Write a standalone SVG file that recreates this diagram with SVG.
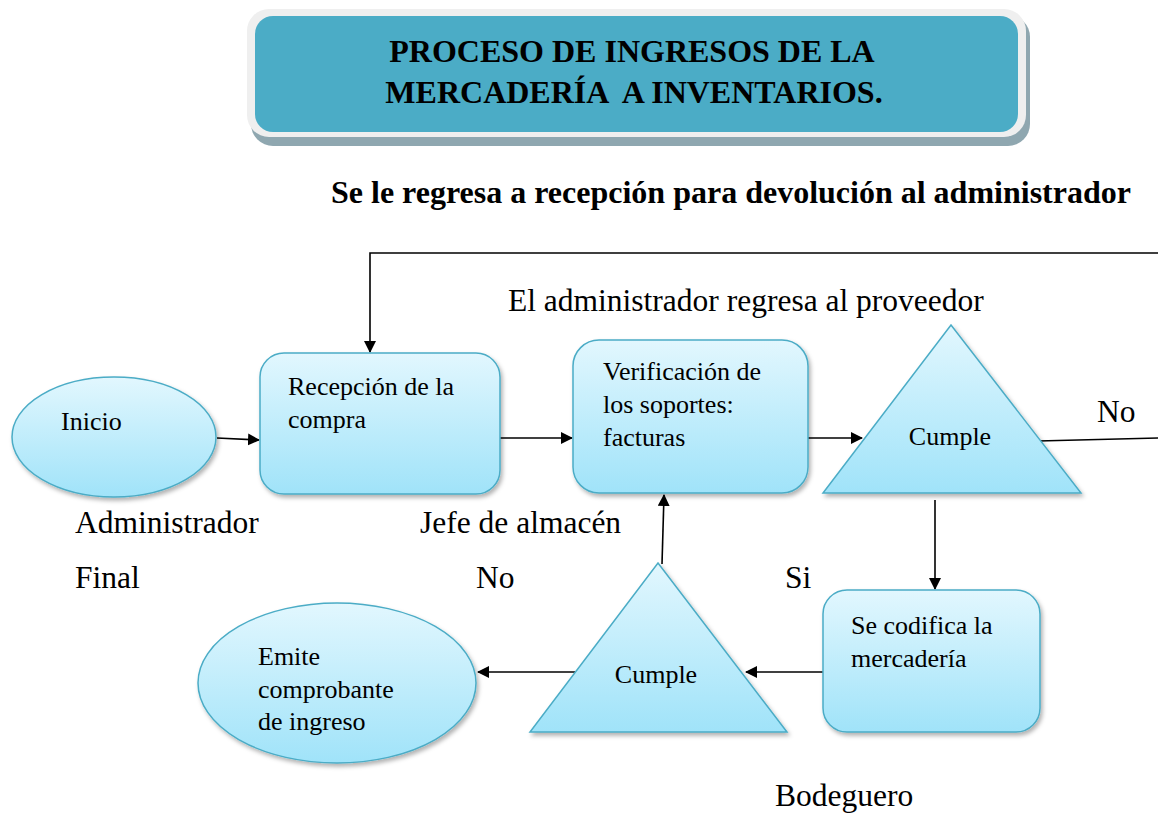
<svg xmlns="http://www.w3.org/2000/svg" width="1158" height="814" viewBox="0 0 1158 814">
<style>
.node{fill:url(#g);stroke:#4BACC6;stroke-width:1.5;filter:url(#sh)}
.t{font-family:"Liberation Serif","Times New Roman",serif;font-size:26px;fill:#000}
.lb{font-family:"Liberation Serif","Times New Roman",serif;font-size:31.5px;fill:#000}
.b{font-family:"Liberation Serif","Times New Roman",serif;font-weight:bold;font-size:32px;fill:#000}
.c{stroke:#000;stroke-width:1.6;fill:none}
</style>
<defs>
<linearGradient id="g" x1="0" y1="0" x2="0" y2="1">
<stop offset="0" stop-color="#E2F7FE"/>
<stop offset="1" stop-color="#A0E3F9"/>
</linearGradient>
<filter id="sh" x="-10%" y="-10%" width="130%" height="130%">
<feDropShadow dx="2" dy="3" stdDeviation="2" flood-color="#000" flood-opacity="0.3"/>
</filter>
<marker id="ah" viewBox="0 0 12 12" refX="11" refY="6" markerWidth="12" markerHeight="12" markerUnits="userSpaceOnUse" orient="auto">
<path d="M0,0 L12,6 L0,12 Z" fill="#000"/>
</marker>
</defs>
<rect width="1158" height="814" fill="#fff"/>
<g id="title">
<rect x="251" y="15" width="779" height="131" rx="22" fill="#8FA7B0"/>
<rect x="247" y="9" width="779" height="128" rx="22" fill="#EFEFEF"/>
<rect x="255" y="16" width="763" height="116" rx="18" fill="#4BACC6"/>
<text class="b" x="632" y="62" text-anchor="middle">PROCESO DE INGRESOS DE LA</text>
<text class="b" x="634" y="103" text-anchor="middle" xml:space="preserve">MERCADERÍA  A INVENTARIOS.</text>
</g>
<text class="b" x="331" y="203">Se le regresa a recepción para devolución al administrador</text>
<g id="connectors">
<polyline class="c" points="1158,253 370,253 370,352" marker-end="url(#ah)"/>
<line class="c" x1="217" y1="438" x2="259" y2="440" marker-end="url(#ah)"/>
<line class="c" x1="500" y1="438" x2="572" y2="438" marker-end="url(#ah)"/>
<line class="c" x1="808" y1="438" x2="862" y2="438" marker-end="url(#ah)"/>
<line class="c" x1="1038" y1="441" x2="1158" y2="438"/>
<line class="c" x1="935" y1="500" x2="935" y2="589" marker-end="url(#ah)"/>
<line class="c" x1="823" y1="672" x2="746" y2="672" marker-end="url(#ah)"/>
<line class="c" x1="662" y1="564" x2="664" y2="495" marker-end="url(#ah)"/>
<line class="c" x1="575" y1="672" x2="478" y2="672" marker-end="url(#ah)"/>
</g>
<g id="inicio">
<ellipse class="node" cx="114" cy="437" rx="102" ry="60"/>
<text class="t" x="61" y="430">Inicio</text>
</g>
<g id="recepcion">
<rect class="node" x="260" y="353" width="240" height="141" rx="24"/>
<text class="t" x="288" y="395">Recepción de la</text>
<text class="t" x="288" y="428">compra</text>
</g>
<g id="verificacion">
<rect class="node" x="573" y="340" width="235" height="153" rx="26"/>
<text class="t" x="603" y="380">Verificación de</text>
<text class="t" x="603" y="413">los soportes:</text>
<text class="t" x="603" y="446">facturas</text>
</g>
<g id="cumple1">
<polygon class="node" points="951,325 1081,493 823,493"/>
<text class="t" x="950" y="445" text-anchor="middle">Cumple</text>
</g>
<g id="codifica">
<rect class="node" x="823" y="590" width="217" height="142" rx="24"/>
<text class="t" x="851" y="634">Se codifica la</text>
<text class="t" x="851" y="667">mercadería</text>
</g>
<g id="cumple2">
<polygon class="node" points="658,563 787,732 530,732"/>
<text class="t" x="656" y="683" text-anchor="middle">Cumple</text>
</g>
<g id="emite">
<ellipse class="node" cx="337" cy="683" rx="139" ry="80"/>
<text class="t" x="258" y="665">Emite</text>
<text class="t" x="258" y="698">comprobante</text>
<text class="t" x="258" y="730">de ingreso</text>
</g>
<g id="labels">
<text class="lb" x="508" y="311">El administrador regresa al proveedor</text>
<text class="lb" x="1097" y="422">No</text>
<text class="lb" x="75" y="533">Administrador</text>
<text class="lb" x="420" y="533">Jefe de almacén</text>
<text class="lb" x="75" y="588">Final</text>
<text class="lb" x="476" y="588">No</text>
<text class="lb" x="785" y="588">Si</text>
<text class="lb" x="775" y="806">Bodeguero</text>
</g>
</svg>
